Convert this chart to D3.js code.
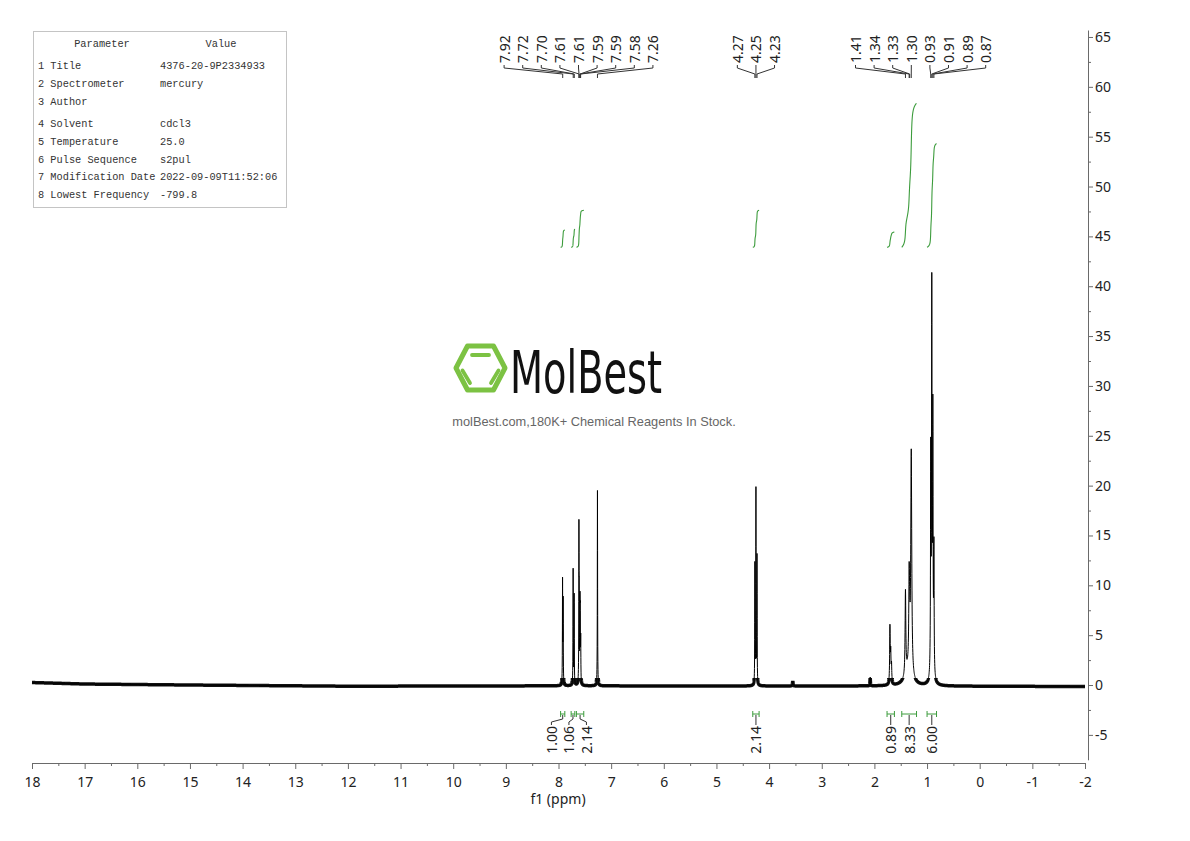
<!DOCTYPE html>
<html>
<head>
<meta charset="utf-8">
<script src="https://cdn.jsdelivr.net/npm/d3@7"></script>
<style>
body { margin: 0; background: #fff; }
svg { display: block; }
</style>
</head>
<body>
<svg id="chart" width="1190" height="841"></svg>
<script>
var width = 1190;
var height = 841;

// parameter table
var paramNames = ["1 Title", "2 Spectrometer", "3 Author", "4 Solvent", "5 Temperature",
  "6 Pulse Sequence", "7 Modification Date", "8 Lowest Frequency"];
var paramValues = ["4376-20-9P2334933", "mercury", "", "cdcl3", "25.0",
  "s2pul", "2022-09-09T11:52:06", "-799.8"];

// peaks: shift (ppm), visible top height, half width (ppm)
var peakPpm    = [7.923, 7.912, 7.722, 7.703, 7.612, 7.606, 7.592, 7.587, 7.578, 7.260,
                  4.270, 4.250, 4.230, 3.55, 2.08,
                  1.705, 1.690, 1.675, 1.410, 1.340, 1.330, 1.300,
                  0.930, 0.910, 0.890, 0.870];
var peakHeight = [10.9, 9.0, 11.8, 9.3, 16.7, 11.0, 9.5, 8.5, 5.3, 19.6,
                  12.5, 20.0, 13.3, 0.5, 0.9,
                  6.2, 4.0, 2.5, 9.7, 12.5, 10.0, 23.8,
                  25.0, 41.5, 29.3, 15.0];
var peakWidth  = [0.003, 0.003, 0.003, 0.003, 0.003, 0.003, 0.003, 0.003, 0.003, 0.003,
                  0.003, 0.003, 0.003, 0.006, 0.004,
                  0.006, 0.006, 0.006, 0.008, 0.008, 0.008, 0.011,
                  0.005, 0.005, 0.005, 0.005];

// broad humps under the alkyl multiplets
var broadPpm    = [1.36, 0.90];
var broadHeight = [1.4, 0.8];
var broadWidth  = [0.07, 0.03];

// baseline drift
var baselinePpm = [18, 17, 15, 12, 8, 5, 2, -2];
var baselineVal = [0.25, 0.1, 0, -0.12, -0.08, -0.1, -0.1, -0.15];

// peak labels on top
var peakLabels = [7.92, 7.72, 7.70, 7.61, 7.61, 7.59, 7.59, 7.58, 7.26,
                  4.27, 4.25, 4.23,
                  1.41, 1.34, 1.33, 1.30, 0.93, 0.91, 0.89, 0.87];

// integrations
var integFrom  = [7.96, 7.76, 7.66, 4.31, 1.76, 1.48, 1.00];
var integTo    = [7.88, 7.69, 7.52, 4.19, 1.62, 1.20, 0.82];
var integValue = [1.00, 1.06, 2.14, 2.14, 0.89, 8.33, 6.00];

var xTicks = d3.range(18, -2.5, -1);
var yTicks = d3.range(-5, 66, 5);

var svg = d3.select('#chart');
var green = '#3d9c3d';

var x = d3.scaleLinear().domain([18, -2]).range([32, 1085]);
var y = d3.scaleLinear().domain([-7.5, 65.7]).range([759.8, 30]);

var baseline = d3.scaleLinear().domain(baselinePpm).range(baselineVal);

function lor(d, w) { var t = d / w; return 1 / (1 + t * t); }

function broad(p) {
  var s = 0;
  for (var i = 0; i < broadPpm.length; i++) s += broadHeight[i] * lor(p - broadPpm[i], broadWidth[i]);
  return s;
}

// amplitudes so that the summed lines reach the heights
var amp = peakHeight.slice();
for (var it = 0; it < 300; it++) {
  for (var i = 0; i < peakPpm.length; i++) {
    var s = broad(peakPpm[i]);
    for (var j = 0; j < peakPpm.length; j++) {
      if (j != i) s += amp[j] * lor(peakPpm[i] - peakPpm[j], peakWidth[j]);
    }
    amp[i] = Math.max(0, peakHeight[i] - s);
  }
}

function signal(p) {
  var s = broad(p);
  for (var i = 0; i < peakPpm.length; i++) s += amp[i] * lor(p - peakPpm[i], peakWidth[i]);
  return s;
}

//sample the spectrum, plus exact peak tops
var grid = d3.range(18, -2.0001, -0.002);
peakPpm.forEach(function(c, i) {
  grid.push(c, c - peakWidth[i], c + peakWidth[i]);
});
grid.sort(function(a, b) { return b - a; });
var spectrum = grid.map(function(p) { return [p, baseline(p) + signal(p)]; });

var line = d3.line()
  .x(function(d) { return x(d[0]); })
  .y(function(d) { return y(d[1]); });

// noisy baseline look: thick stroke clipped to a strip round zero
svg.append('clipPath').attr('id', 'noise')
  .append('rect')
  .attr('x', 0).attr('width', width)
  .attr('y', y(0.7)).attr('height', y(-0.7) - y(0.7));

svg.append('path')
  .datum(spectrum)
  .attr('d', line)
  .attr('clip-path', 'url(#noise)')
  .style('fill', 'none').style('stroke', '#111').style('stroke-width', 3.5);

svg.append('path')
  .datum(spectrum)
  .attr('d', line)
  .style('fill', 'none').style('stroke', '#000').style('stroke-width', 1);

// x axis
var xAxis = d3.axisBottom(x).tickValues(xTicks).tickSize(6).tickSizeOuter(0).tickPadding(8)
  .tickFormat(function(d) { return String(d); });
svg.append('g').attr('transform', 'translate(0,763)').call(xAxis);
svg.append('g').attr('transform', 'translate(0,763)')
  .call(d3.axisBottom(x).tickValues(d3.range(17.5, -2, -1)).tickSize(3).tickFormat(''))
  .select('.domain').remove();

// y axis
var yAxis = d3.axisRight(y).tickValues(yTicks).tickSize(5).tickSizeOuter(0).tickPadding(2)
  .tickFormat(function(d) { return String(d); });
svg.append('g').attr('transform', 'translate(1088,0)').call(yAxis);
svg.append('g').attr('transform', 'translate(1088,0)')
  .call(d3.axisRight(y).tickValues(d3.range(-2.5, 65, 5)).tickSize(3).tickFormat(''))
  .select('.domain').remove();

svg.selectAll('.domain, .tick line').style('stroke', '#6a6a6a');
svg.selectAll('.tick text')
  .style('font-family', '"Noto Sans", "DejaVu Sans", sans-serif')
  .style('font-size', '14px').style('fill', '#222');

svg.append('text')
  .attr('x', 558).attr('y', 804)
  .attr('text-anchor', 'middle')
  .style('font-family', '"Noto Sans", "DejaVu Sans", sans-serif')
  .style('font-size', '14px').style('fill', '#222')
  .text('f1 (ppm)');

// spread labels so they don't overlap (merge crowded groups and recentre)
function spread(xs, gap) {
  var blocks = xs.map(function(v) { return {sum: v, n: 1}; });
  var merged = true;
  while (merged) {
    merged = false;
    for (var i = 0; i < blocks.length - 1; i++) {
      var a = blocks[i], b = blocks[i + 1];
      var aEnd = a.sum / a.n + (a.n - 1) / 2 * gap;
      var bStart = b.sum / b.n - (b.n - 1) / 2 * gap;
      if (bStart - aEnd < gap) {
        a.sum += b.sum; a.n += b.n;
        blocks.splice(i + 1, 1);
        merged = true;
        break;
      }
    }
  }
  var out = [];
  blocks.forEach(function(b) {
    var c = b.sum / b.n;
    for (var k = 0; k < b.n; k++) out.push(c + (k - (b.n - 1) / 2) * gap);
  });
  return out;
}

var labelFont = '"Noto Sans", "DejaVu Sans", sans-serif';

// peak labels
var peakX = peakLabels.map(function(p) { return x(p); });
var peakLx = spread(peakX, 18.6);
var gp = svg.append('g');
peakLabels.forEach(function(p, i) {
  gp.append('path')
    .attr('d', d3.line()([[peakLx[i], 65], [peakLx[i], 68], [peakX[i], 74], [peakX[i], 78]]))
    .style('fill', 'none').style('stroke', '#333').style('stroke-width', 1);
  gp.append('text')
    .attr('transform', 'translate(' + peakLx[i] + ',63) rotate(-90)')
    .attr('dominant-baseline', 'central')
    .style('font-family', labelFont).style('font-size', '14px').style('fill', '#222')
    .text(p.toFixed(2));
});

// integral curves, brackets and labels
var integBase = 43.9, integUnit = 1.735;
var gi = svg.append('g');
var integMid = [];
integValue.forEach(function(v, i) {
  var pts = d3.range(integFrom[i], integTo[i], -0.0005);
  var acc = 0, cum = [];
  pts.forEach(function(p) { acc += signal(p); cum.push([p, acc]); });
  var total = acc;
  var curve = cum.map(function(d) { return [d[0], integBase + d[1] / total * v * integUnit]; });
  gi.append('path').datum(curve).attr('d', line)
    .style('fill', 'none').style('stroke', green).style('stroke-width', 1.1);

  var x0 = x(integFrom[i]), x1 = x(integTo[i]);
  gi.append('path')
    .attr('d', 'M' + x0 + ',711V717M' + x0 + ',714H' + x1 + 'M' + x1 + ',711V717')
    .style('fill', 'none').style('stroke', green).style('stroke-width', 1);
  integMid.push((x0 + x1) / 2);
});

var integLx = spread(integMid, 17.5).map(function(v, i) { return i < 3 ? v - 3 : v; });
integValue.forEach(function(v, i) {
  gi.append('path')
    .attr('d', d3.line()([[integMid[i], 715], [integMid[i], 719], [integLx[i], 722], [integLx[i], 725]]))
    .style('fill', 'none').style('stroke', '#333').style('stroke-width', 1);
  gi.append('text')
    .attr('transform', 'translate(' + integLx[i] + ',726) rotate(-90)')
    .attr('text-anchor', 'end')
    .attr('dominant-baseline', 'central')
    .style('font-family', labelFont).style('font-size', '14px').style('fill', '#222')
    .text(v.toFixed(2));
});

// parameter table
var gt = svg.append('g');
gt.append('rect')
  .attr('x', 33.5).attr('y', 31.5).attr('width', 253).attr('height', 176)
  .style('fill', '#fff').style('stroke', '#c4c4c4');
var tableFont = '"Liberation Mono", "DejaVu Sans Mono", monospace';
gt.append('text').attr('x', 102).attr('y', 47).attr('text-anchor', 'middle')
  .style('font-family', tableFont).style('font-size', '10.3px').style('fill', '#333').text('Parameter');
gt.append('text').attr('x', 221).attr('y', 47).attr('text-anchor', 'middle')
  .style('font-family', tableFont).style('font-size', '10.3px').style('fill', '#333').text('Value');
paramNames.forEach(function(n, i) {
  var ry = 69 + i * 17.9 + (i >= 3 ? 4 : 0);
  gt.append('text').attr('x', 38).attr('y', ry)
    .style('font-family', tableFont).style('font-size', '10.3px').style('fill', '#333').text(n);
  gt.append('text').attr('x', 160).attr('y', ry)
    .style('font-family', tableFont).style('font-size', '10.3px').style('fill', '#333').text(paramValues[i]);
});

// watermark logo
var logo = svg.append('g');
logo.append('path')
  .attr('d', 'M456,368L467.5,346H493.5L505,368L493.5,390H467.5Z')
  .style('fill', 'none').style('stroke', '#7cc243').style('stroke-width', 5)
  .style('stroke-linejoin', 'round');
logo.append('path')
  .attr('d', 'M472,355H489M462.5,370.5L470,383M498.5,370.5L491,383')
  .style('fill', 'none').style('stroke', '#7cc243').style('stroke-width', 3.8)
  .style('stroke-linecap', 'round');
logo.append('text')
  .attr('x', 510).attr('y', 393)
  .attr('textLength', 152).attr('lengthAdjust', 'spacingAndGlyphs')
  .style('font-family', '"Liberation Sans Narrow", "DejaVu Sans Condensed", "Liberation Sans", sans-serif')
  .style('font-size', '58px').style('fill', '#111')
  .text('MolBest');
logo.append('text')
  .attr('x', 594).attr('y', 426).attr('text-anchor', 'middle')
  .style('font-family', '"Liberation Sans", Arial, sans-serif')
  .style('font-size', '12.8px').style('fill', '#666')
  .text('molBest.com,180K+ Chemical Reagents In Stock.');
</script>
</body>
</html>
